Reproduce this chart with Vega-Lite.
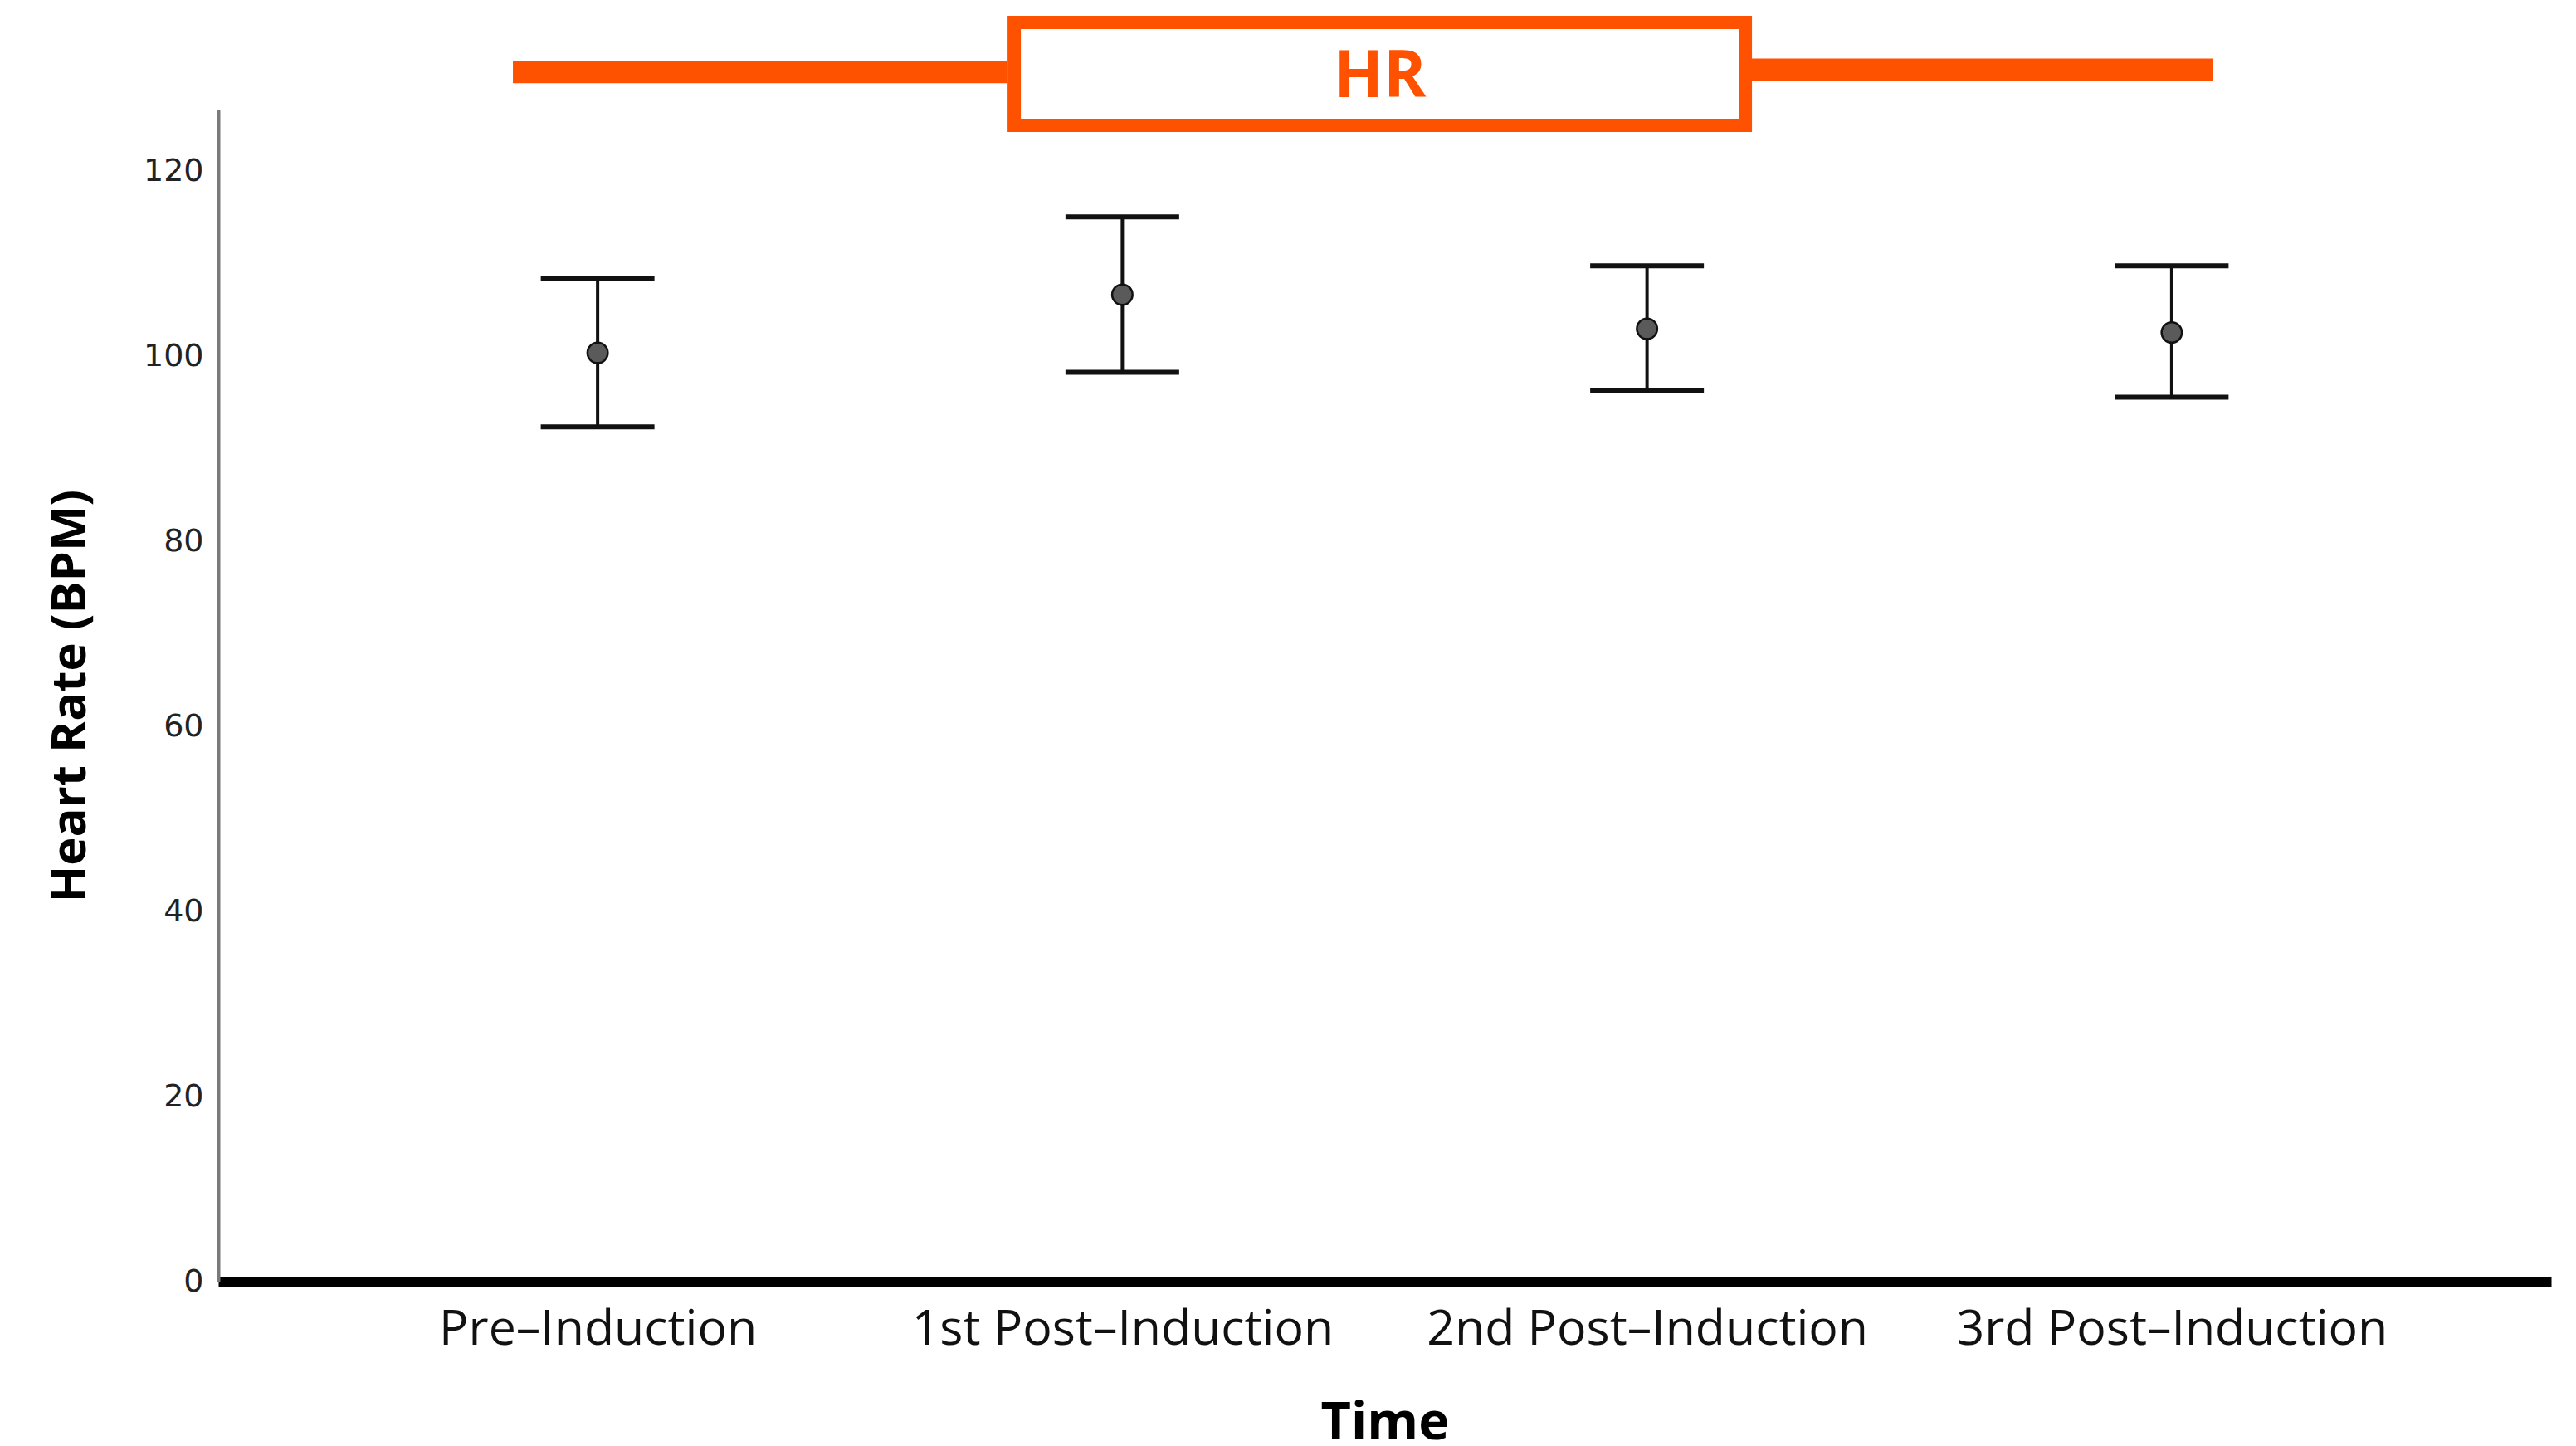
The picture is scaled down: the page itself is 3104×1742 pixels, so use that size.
{
  "$schema": "https://vega.github.io/schema/vega-lite/v6.json",
  "width": 2811,
  "height": 1412,
  "autosize": {"type": "none"},
  "padding": {"left": 263, "top": 132, "right": 30, "bottom": 198},
  "background": "white",
  "config": {"view": {"stroke": null}},
  "layer": [
    {
      "data": {
        "values": [
          {"time": "Pre–Induction", "mean": 100.4, "lower": 92.4, "upper": 108.4},
          {"time": "1st Post–Induction", "mean": 106.7, "lower": 98.3, "upper": 115.1},
          {"time": "2nd Post–Induction", "mean": 103.0, "lower": 96.3, "upper": 109.8},
          {"time": "3rd Post–Induction", "mean": 102.6, "lower": 95.6, "upper": 109.8}
        ]
      },
      "encoding": {
        "x": {
          "field": "time",
          "type": "nominal",
          "sort": null,
          "scale": {"type": "point", "padding": 0.723},
          "axis": {
            "title": "Time",
            "titleFont": "Open Sans",
            "titleFontSize": 63,
            "titleFontWeight": "bold",
            "titleColor": "#000000",
            "titlePadding": 52,
            "labelFont": "Open Sans",
            "labelFontSize": 59,
            "labelColor": "#111111",
            "labelAngle": 0,
            "labelPadding": 28,
            "labelLimit": 0,
            "labelOverlap": false,
            "ticks": false,
            "tickSize": 0,
            "domainColor": "#000000",
            "domainWidth": 12,
            "grid": false
          }
        }
      },
      "layer": [
        {
          "mark": {"type": "rule", "color": "#111111", "strokeWidth": 4},
          "encoding": {
            "y": {
              "field": "lower",
              "type": "quantitative",
              "scale": {"domain": [0, 126.7], "nice": false, "zero": true},
              "axis": {
                "title": "Heart Rate (BPM)",
                "titleFont": "Open Sans",
                "titleFontSize": 58,
                "titleFontWeight": "bold",
                "titleColor": "#000000",
                "titlePadding": 58,
                "values": [0, 20, 40, 60, 80, 100, 120],
                "labelFont": "DejaVu Sans",
                "labelFontSize": 38,
                "labelColor": "#222222",
                "labelPadding": 18,
                "ticks": false,
                "tickSize": 0,
                "grid": false,
                "domainColor": "#7a7a7a",
                "domainWidth": 4
              }
            },
            "y2": {"field": "upper"}
          }
        },
        {
          "mark": {"type": "tick", "color": "#111111", "opacity": 1, "size": 137, "thickness": 6},
          "encoding": {"y": {"field": "upper", "type": "quantitative"}}
        },
        {
          "mark": {"type": "tick", "color": "#111111", "opacity": 1, "size": 137, "thickness": 6},
          "encoding": {"y": {"field": "lower", "type": "quantitative"}}
        },
        {
          "mark": {"type": "point", "shape": "circle", "filled": true, "size": 600, "fill": "#5a5a5a", "stroke": "#111111", "strokeWidth": 2.5, "opacity": 1},
          "encoding": {"y": {"field": "mean", "type": "quantitative"}}
        }
      ]
    },
    {
      "layer": [
        {
          "data": {
            "values": [
              {"x1": 0.1263, "x2": 0.3383, "y": 1.0321},
              {"x1": 0.6574, "x2": 0.8552, "y": 1.0340}
            ]
          },
          "mark": {"type": "rule", "color": "#FF5200", "strokeWidth": 27, "strokeCap": "butt"},
          "encoding": {
            "x": {"field": "x1", "type": "quantitative", "scale": {"domain": [0, 1], "nice": false, "zero": false}, "axis": null},
            "x2": {"field": "x2"},
            "y": {"field": "y", "type": "quantitative", "scale": {"domain": [0, 1], "nice": false, "zero": false}, "axis": null}
          }
        },
        {
          "data": {"values": [{"x1": 0.3412, "x2": 0.6546, "y1": 0.9865, "y2": 1.0743}]},
          "mark": {"type": "rect", "fill": "white", "stroke": "#FF5200", "strokeWidth": 16},
          "encoding": {
            "x": {"field": "x1", "type": "quantitative", "axis": null},
            "x2": {"field": "x2"},
            "y": {"field": "y1", "type": "quantitative", "axis": null},
            "y2": {"field": "y2"}
          }
        },
        {
          "data": {"values": [{"label": "HR", "x": 0.498, "y": 1.0267}]},
          "mark": {"type": "text", "color": "#FF5200", "font": "Open Sans", "fontSize": 78, "fontWeight": "bold", "align": "center", "baseline": "middle"},
          "encoding": {
            "x": {"field": "x", "type": "quantitative", "axis": null},
            "y": {"field": "y", "type": "quantitative", "axis": null},
            "text": {"field": "label"}
          }
        }
      ]
    }
  ],
  "resolve": {"scale": {"x": "independent", "y": "independent"}}
}
